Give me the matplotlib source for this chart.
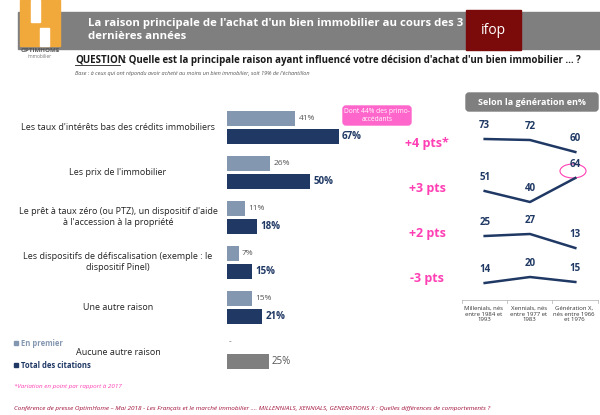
import numpy as np
import matplotlib.pyplot as plt
from matplotlib.patches import Rectangle, Ellipse, FancyBboxPatch

plt.rcParams['font.family'] = ['Open Sans', 'DejaVu Sans']

categories = ["Les taux d'intérêts bas des crédits immobiliers",
              "Les prix de l'immobilier",
              "Le prêt à taux zéro (ou PTZ), un dispositif d'aide\nà l'accession à la propriété",
              "Les dispositifs de défiscalisation (exemple : le\ndispositif Pinel)",
              "Une autre raison",
              "Aucune autre raison"]
en_premier = [41, 26, 11, 7, 15, 0]
total = [67, 50, 18, 15, 21, 25]
variations = ["+4 pts*", "+3 pts", "+2 pts", "-3 pts"]
generations = ["Millenials, nés\nentre 1984 et\n1993", "Xennials, nés\nentre 1977 et\n1983",
               "Génération X,\nnés entre 1966\net 1976"]
gen_values = [[73, 72, 60], [51, 40, 64], [25, 27, 13], [14, 20, 15]]

LIGHT = '#8497b0'
DARK = '#1f3864'
PINK = '#ff40b4'
W, H = 600, 415

fig = plt.figure(figsize=(6, 4.15), dpi=100)
bg = fig.add_axes([0, 0, 1, 1])
bg.set_xlim(0, W); bg.set_ylim(H, 0); bg.axis('off')

def px_axes(x0, y0, x1, y1):
    return fig.add_axes([x0 / W, 1 - y1 / H, (x1 - x0) / W, (y1 - y0) / H])

# header
bg.add_patch(Rectangle((18, 12), 582, 37, color='#7f7f7f'))
bg.add_patch(Rectangle((466, 10), 55, 40, color='#7b0a0a'))
bg.text(493, 31, 'ifop', color='white', fontsize=10, ha='center', va='center')
bg.add_patch(Rectangle((20, 0), 40, 46, color='#f2a93b'))
bg.add_patch(Rectangle((31, 0), 9, 22, color='white'))
bg.add_patch(Rectangle((40, 28), 9, 18, color='white'))
bg.text(40, 52, 'OPTIMHOME', fontsize=4.5, ha='center', color='#555555', weight='bold')
bg.text(40, 58, 'immobilier', fontsize=3.5, ha='center', color='#777777')
bg.text(88, 30, "La raison principale de l'achat d'un bien immobilier au cours des 3\ndernières années",
        color='white', fontsize=8.2, weight='bold', va='center', linespacing=1.3)
bg.text(75, 60, "QUESTION", fontsize=7, weight='bold', color='#1a1a1a', va='center')
bg.plot([75, 120], [65, 65], color='#1a1a1a', lw=0.6)
bg.text(121, 60, " : Quelle est la principale raison ayant influencé votre décision d'achat d'un bien immobilier … ?",
        fontsize=7, weight='bold', color='#1a1a1a', va='center')
bg.text(75, 73, "Base : à ceux qui ont répondu avoir acheté au moins un bien immobilier, soit 19% de l'échantillon",
        fontsize=4, style='italic', color='#555555', va='center')

# bars
ax = px_axes(227, 105, 427, 375)
y = np.arange(len(categories))
cols_total = [DARK] * 5 + ['#7f7f7f']
ax.barh(y - 0.2, en_premier, height=0.34, color=LIGHT)
ax.barh(y + 0.2, total, height=0.34, color=cols_total)
ax.set_xlim(0, 120); ax.set_ylim(5.5, -0.5); ax.axis('off')
for i in range(len(categories)):
    if en_premier[i] > 0:
        ax.text(en_premier[i] + 2, i - 0.2, f'{en_premier[i]}%', fontsize=6, color='#555555', va='center')
    else:
        ax.text(1, i - 0.25, '-', fontsize=6, color='#555555', va='center')
    c = '#555555' if i == 5 else DARK
    ax.text(total[i] + 2, i + 0.2, f'{total[i]}%', fontsize=7, color=c, va='center',
            weight='normal' if i == 5 else 'bold')
    bg.text(118, 127 + 45 * i, categories[i], fontsize=6.5, ha='center', va='center', color='#222222')
for i, v in enumerate(variations):
    ax.text(120, i + 0.35, v, fontsize=9, color=PINK, weight='bold', ha='center', va='center')

bg.add_patch(FancyBboxPatch((343, 106), 68, 19, boxstyle='round,pad=0,rounding_size=3', color='#ff66cc'))
bg.text(377, 115.5, "Dont 44% des primo-\naccédants", fontsize=4.8, color='white', ha='center', va='center')

# generation panel
bg.add_patch(FancyBboxPatch((466, 93), 132, 18, boxstyle='round,pad=0,rounding_size=3', color='#7f7f7f'))
bg.text(532, 102, 'Selon la génération en%', fontsize=6.5, color='white', weight='bold', ha='center', va='center')
tops = [129, 168, 224, 267]
for r, vals in enumerate(gen_values):
    la = px_axes(462, tops[r], 598, tops[r] + 40)
    la.plot([0, 1, 2], vals, color=DARK, lw=1.8)
    la.set_xlim(-0.5, 2.5); la.set_ylim(max(vals) - 30, max(vals) + 10); la.axis('off')
    for j, v in enumerate(vals):
        la.annotate(str(v), (j, v), xytext=(0, 10), textcoords='offset points',
                    ha='center', va='center', fontsize=7, weight='bold', color=DARK)
bg.add_patch(Ellipse((573, 171), 26, 14, fill=False, ec=PINK, lw=0.8))
bg.plot([462, 598], [300, 300], color='#bbbbbb', lw=0.6)
for xt in [462, 507, 552, 598]:
    bg.plot([xt, xt], [300, 303], color='#bbbbbb', lw=0.6)
for j, g in enumerate(generations):
    bg.text(484 + 45 * j, 314, g, fontsize=4.3, ha='center', va='center', color='#333333')

# legend & footer
bg.add_patch(Rectangle((14, 341), 4, 4, color=LIGHT))
bg.text(21, 343, 'En premier', fontsize=5.5, color=LIGHT, weight='bold', va='center')
bg.add_patch(Rectangle((14, 363), 4, 4, color=DARK))
bg.text(21, 365, 'Total des citations', fontsize=5.5, color=DARK, weight='bold', va='center')
bg.text(14, 386, '*Variation en point par rapport à 2017', fontsize=4.5, color=PINK, style='italic', va='center')
bg.text(14, 408, "Conférence de presse OptimHome – Mai 2018 - Les Français et le marché immobilier …. "
        "MILLENNIALS, XENNIALS, GENERATIONS X : Quelles différences de comportements ?",
        fontsize=4.6, color='#a0103a', style='italic', va='center')

fig.savefig('out.png', dpi=100)
